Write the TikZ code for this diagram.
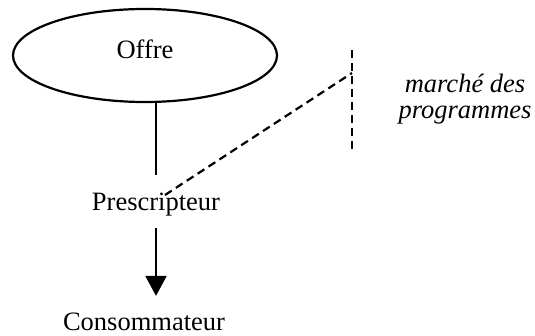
\documentclass[tikz,border=0pt]{standalone}
\usepackage{fontspec}
\setmainfont{Liberation Serif}
\usetikzlibrary{shapes.geometric}
\usetikzlibrary{arrows.meta}
\usetikzlibrary{positioning}

\begin{document}
\fontsize{13.25}{11.6}\selectfont
\begin{tikzpicture}[x=0.5pt, y=-0.5pt, line width=1.1pt,
    market/.style={dash pattern=on 4pt off 2.5pt}]
          \useasboundingbox (0,0) rectangle (535,336);
          \node[ellipse, draw, minimum width=132pt, minimum height=46.5pt, inner sep=0pt, text depth=6.5pt] (offre) at (145,55.5) {Offre};
          \node[inner ysep=0pt, text height=17.5pt, text depth=8pt] (presc) at (156,201.5) {Prescripteur};
          \node[inner ysep=0pt, text height=16.5pt, anchor=base] (conso) at (144,330) {Consommateur};
          \node[align=center, font=\itshape, inner sep=0pt] (marche) at (465,99) {marché des\\[1.2pt]programmes};

          \coordinate (top) at (352,50);
          \coordinate (bot) at (352,153);
          \coordinate (cut) at (352,73);
          \coordinate (pin) at (165,195);

          \draw
          (presc.north) edge (presc.north |- offre.south)
          (presc.south) edge[-{Triangle[width=10.5pt, length=10pt]}] (presc.south |- conso.north)
          (top) edge[market] (bot)
          (pin) edge[market] (cut);
        \end{tikzpicture}
\end{document}
